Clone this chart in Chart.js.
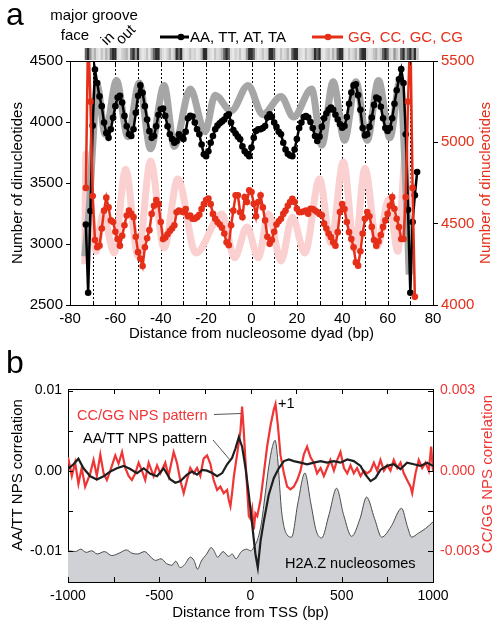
<!DOCTYPE html>
<html>
<head>
<meta charset="utf-8">
<title>Dinucleotide periodicity and NPS correlation</title>
<script src="https://cdn.jsdelivr.net/npm/chart.js@4.4.1/dist/chart.umd.min.js"></script>
<style>
  html, body { margin: 0; padding: 0; background: #fff; }
  #page { position: relative; width: 504px; height: 636px; overflow: hidden; }
  #page canvas { position: absolute; left: 0; }
  #chart-a { top: 0; }
  #chart-b { top: 345px; }
</style>
</head>
<body>
<div id="page">
  <canvas id="chart-a" width="504" height="345"></canvas>
  <canvas id="chart-b" width="504" height="291"></canvas>
</div>
<script>
// ---------- panel a: dinucleotide counts around the dyad (one value per bp) ----------
const DYAD_START = -73;

const AT_COUNTS = [
  3160, 2600, 3270, 3970, 4430, 4320, 4210, 4130, 3995, 3910,
  3870, 3940, 4035, 4130, 4200, 4215, 4160, 4050, 3965, 3900,
  3885, 3940, 4075, 4215, 4300, 4240, 4130, 4020, 3925, 3870,
  3885, 3965, 4060, 4105, 4110, 4050, 3965, 3900, 3860, 3830,
  3845, 3900, 3880, 3860, 3920, 4030, 4050, 4045, 3995, 3940,
  3900, 3816, 3735, 3720, 3760, 3830, 3885, 3940, 3970, 3990,
  4005, 4020, 4050, 4063, 3995, 3935, 3905, 3880, 3858, 3800,
  3760, 3740, 3720, 3790, 3870, 3926, 3940, 3940, 3950, 3967,
  4036, 4063, 4040, 3995, 3960, 3920, 3899, 3830, 3775, 3740,
  3725, 3720, 3775, 3860, 3950, 3995, 4040, 4049, 4036, 4000,
  3950, 3885, 3844, 3880, 3960, 4030, 4070, 4100, 4118, 4100,
  4060, 4020, 3981, 3953, 3967, 4040, 4150, 4241, 4300, 4310,
  4220, 4100, 3950, 3890, 3900, 3960, 4036, 4140, 4200, 4190,
  4125, 4030, 3950, 3926, 3950, 4030, 4150, 4260, 4351, 4433,
  4320, 3900, 3280, 2600, 3180, 3400, 3590
];

const GC_COUNTS = [
  4720, 5700, 5250, 4670, 4400, 4355, 4365, 4470, 4580, 4660,
  4600, 4520, 4510, 4450, 4405, 4365, 4425, 4490, 4550, 4580,
  4560, 4540, 4420, 4325, 4285, 4240, 4355, 4410, 4460, 4560,
  4610, 4645, 4620, 4510, 4405, 4415, 4435, 4455, 4470, 4490,
  4570, 4580, 4575, 4570, 4590, 4545, 4550, 4530, 4530, 4540,
  4555, 4590, 4620, 4645, 4655, 4620, 4560, 4530, 4510, 4495,
  4475, 4440, 4386, 4368, 4490, 4580, 4674, 4674, 4570, 4540,
  4663, 4633, 4705, 4694, 4622, 4545, 4633, 4674, 4600, 4520,
  4420, 4376, 4400, 4450, 4495, 4515, 4530, 4560, 4580, 4610,
  4633, 4653, 4633, 4592, 4571, 4571, 4575, 4580, 4561, 4591,
  4590, 4581, 4571, 4560, 4551, 4500, 4470, 4440, 4417, 4386,
  4365, 4448, 4571, 4620, 4590, 4510, 4448, 4406, 4355, 4262,
  4242, 4330, 4440, 4530, 4571, 4545, 4480, 4400, 4365, 4390,
  4430, 4480, 4520, 4560, 4610, 4663, 4591, 4530, 4479, 4406,
  4406, 4663, 5250, 5700, 4720, 4050
];

// smooth model curves (peaks and troughs)
const AT_MODEL_BP  = [-73.5, -71.5, -70, -68, -64.5, -59.5, -54.5, -49.5, -44.5, -38.5, -34, -27, -20.5, -16, -9, -1.5, 5, 13, 18.5, 26.5, 31, 36, 41, 46, 51, 56, 61, 65.5, 67.5, 69.5];
const AT_MODEL_VAL = [2900, 3300, 3800, 4300, 3900, 4340, 3880, 4320, 3780, 4300, 3800, 4270, 3920, 4220, 4090, 4300, 4060, 4210, 4040, 4270, 3810, 4330, 3850, 4330, 3850, 4340, 3870, 4340, 3700, 2750];

const GC_MODEL_BP  = [-73.5, -73, -70.5, -68.5, -65.5, -60.5, -55.5, -50, -44.5, -38.5, -32.5, -24.5, -13, -7.5, -2, 3, 7.5, 13, 18, 23.5, 30, 35, 40.5, 45.5, 50, 55.5, 60.5, 64.5, 68, 69.5];
const GC_MODEL_VAL = [4250, 4930, 4550, 4330, 4560, 4320, 4835, 4300, 4885, 4350, 4775, 4320, 4560, 4290, 4480, 4290, 4560, 4270, 4540, 4320, 4775, 4380, 4880, 4340, 4840, 4360, 4650, 4330, 4940, 4250];

const DOTTED_BP = [-70, -60, -50, -40, -30, -20, -10, 0, 10, 20, 30, 40, 50, 60, 70];

// major-groove face strip, darkness 0..9 per bp from -73 to 73
const GROOVE_SHADE = [
  8, 9, 7, 4, 6, 3, 2, 5, 3, 6,
  4, 8, 9, 9, 3, 2, 4, 5, 6, 3,
  8, 9, 7, 9, 4, 2, 3, 5, 2, 6,
  8, 9, 9, 5, 3, 2, 4, 6, 3, 5,
  9, 8, 9, 4, 2, 3, 5, 3, 4, 2,
  3, 6, 9, 9, 4, 3, 2, 5, 3, 4,
  6, 8, 9, 8, 3, 2, 4, 3, 5, 2,
  3, 7, 9, 9, 8, 4, 2, 3, 5, 3,
  4, 9, 9, 8, 3, 2, 5, 3, 4, 6,
  3, 8, 9, 9, 4, 3, 2, 5, 3, 4,
  6, 9, 8, 9, 3, 2, 4, 5, 3, 6,
  4, 8, 9, 9, 3, 2, 5, 3, 4, 6,
  3, 8, 9, 9, 4, 2, 3, 5, 6, 3,
  5, 8, 9, 8, 4, 3, 7, 5, 3, 8,
  9, 6, 8, 9, 7, 9, 5
];
const SHADE_GRAY = [252, 242, 232, 222, 210, 196, 178, 150, 100, 45];

// ---------- panel b: NPS correlation around the TSS ----------
const AT_NPS_BP = [
  -1000, -970, -943, -915, -878, -842, -805, -768, -732, -695,
  -659, -622, -585, -549, -512, -476, -439, -412, -384, -348,
  -320, -293, -265, -238, -210, -183, -155, -128, -101, -82,
  -64, -46, -27, -9, 9, 27, 40, 55, 73, 100,
  128, 155, 183, 210, 237, 274, 310, 347, 384, 420,
  457, 493, 530, 566, 603, 630, 658, 685, 712, 749,
  785, 822, 858, 895, 931, 968, 1000
];
const AT_NPS_VAL = [
  0.0002, 0.0008, 0.0015, 0.0003, -0.0007, -0.0011, -0.0007, -0.0001, 0.0003, 0.0006,
  0.0002, -0.0003, 0.0003, -0.0004, -0.0007, 0.0003, -0.0011, -0.0015, -0.0013, -0.0005,
  -0.0001, -0.0005, 0.0001, 0.0000, -0.0003, -0.0007, -0.0003, 0.0008, 0.0016, 0.0028,
  0.0042, 0.0030, 0.0003, -0.0030, -0.0067, -0.0104, -0.0121, -0.0088, -0.0063, -0.0030,
  -0.0009, 0.0003, 0.0012, 0.0014, 0.0012, 0.0010, 0.0008, 0.0010, 0.0012, 0.0010,
  0.0012, 0.0010, 0.0014, 0.0012, 0.0006, -0.0005, -0.0013, -0.0009, 0.0001, 0.0006,
  0.0008, 0.0002, 0.0010, 0.0008, 0.0006, 0.0010, 0.0006
];

const GC_NPS_BP = [
  -1000, -979, -961, -943, -925, -906, -878, -860, -842, -823,
  -805, -787, -768, -741, -723, -704, -686, -668, -650, -631,
  -613, -595, -577, -558, -531, -512, -494, -467, -449, -421,
  -403, -385, -366, -348, -330, -311, -293, -275, -257, -238,
  -220, -202, -183, -165, -147, -128, -119, -110, -101, -91,
  -73, -55, -46, -37, -27, -18, -9, 0, 9, 18,
  27, 37, 55, 73, 91, 110, 128, 137, 150, 164,
  183, 201, 219, 237, 256, 274, 292, 310, 329, 347,
  365, 384, 402, 420, 438, 457, 475, 493, 512, 530,
  548, 566, 584, 603, 621, 639, 658, 676, 694, 712,
  731, 749, 767, 785, 804, 822, 840, 858, 877, 886,
  904, 922, 941, 959, 977, 990, 1000
];
const GC_NPS_VAL = [
  0.0005, -0.0002, 0.0003, -0.0005, 0.0001, -0.0006, -0.0001, 0.0004, -0.0002, 0.0006,
  -0.0001, -0.00035, 0.0000, 0.00057, 0.00026, 0.0007, 0.0001, -0.0002, -0.00035, -0.0001,
  0.0003, 0.0000, -0.00035, 0.0003, -0.0002, 0.0002, -0.0001, 0.0003, -0.0002, 0.0007,
  0.0003, -0.00035, -0.00084, -0.00035, 0.0001, -0.0001, 0.0001, -0.0002, 0.00045, 0.00057,
  0.00026, -0.00035, -0.00072, -0.0006, -0.00084, -0.00072, -0.0011, -0.00133, -0.00084, -0.0002,
  0.00063, 0.0015, 0.0024, 0.0015, 0.0003, -0.0007, -0.0017, -0.0018, -0.00145, -0.0022,
  -0.0016, -0.0017, -0.0011, -0.0001, 0.0009, 0.0017, 0.0023, 0.0025, 0.0017, 0.0006,
  -0.0001, -0.0006, -0.0007, -0.0006, -0.00035, 0.0000, 0.0006, 0.0009, 0.0005, 0.0003,
  -0.0001, 0.0001, -0.0002, 0.0001, 0.0004, 0.0000, 0.0004, 0.0007, 0.0001, -0.0001,
  0.0002, -0.0001, 0.0001, -0.0002, 0.0000, -0.0001, 0.0000, 0.0003, 0.0000, 0.0004,
  0.0000, 0.0002, 0.0000, 0.0004, 0.0001, 0.0003, -0.0001, -0.00035, -0.0006, -0.00084,
  -0.0001, 0.0004, 0.0001, 0.0003, 0.0000, 0.0009, 0.0000
];

// H2A.Z occupancy profile, drawn in left-axis units
const H2AZ_BP = [
  -1000, -960, -930, -900, -870, -840, -800, -760, -720, -680,
  -650, -620, -580, -550, -520, -490, -460, -430, -410, -385,
  -360, -330, -310, -290, -270, -240, -215, -200, -180, -150,
  -120, -100, -80, -50, -20, 0, 20, 40, 60, 80,
  100, 120, 135, 150, 170, 200, 225, 260, 298, 330,
  360, 390, 430, 472, 510, 554, 600, 636, 680, 719,
  770, 828, 860, 883, 920, 960, 1000
];
const H2AZ_VAL = [
  -0.0100, -0.0101, -0.0098, -0.0102, -0.0100, -0.0104, -0.0101, -0.0106, -0.0103, -0.0099,
  -0.0103, -0.0104, -0.0101, -0.0107, -0.0112, -0.0110, -0.0116, -0.0118, -0.0113, -0.0121,
  -0.0117, -0.0108, -0.0112, -0.0123, -0.0113, -0.0104, -0.0096, -0.0100, -0.0108, -0.0101,
  -0.0107, -0.0104, -0.0110, -0.0101, -0.0098, -0.0100, -0.0095, -0.0085, -0.0065, -0.0030,
  0.0005, 0.0030, 0.0038, 0.0012, -0.0050, -0.0080, -0.0083, -0.0040, -0.0003, -0.0040,
  -0.0075, -0.0084, -0.0055, -0.0022, -0.0055, -0.0082, -0.0060, -0.0033, -0.0060, -0.0083,
  -0.0070, -0.0047, -0.0070, -0.0083, -0.0078, -0.0072, -0.0064
];

const FONT = '"Liberation Sans", Arial, Helvetica, sans-serif';
const RED = '#e52f19';
const RED_B = '#ee3636';

Chart.defaults.font.family = FONT;
Chart.defaults.color = '#000';

const pairs = (xs, ys) => xs.map((x, i) => ({ x: x, y: ys[i] }));
const seq = (start, vals) => vals.map((v, i) => ({ x: start + i, y: v }));

function line(ctx, x1, y1, x2, y2) {
  ctx.beginPath();
  ctx.moveTo(x1, y1);
  ctx.lineTo(x2, y2);
  ctx.stroke();
}

function vText(ctx, text, x, y, color) {
  ctx.save();
  ctx.translate(x, y);
  ctx.rotate(-Math.PI / 2);
  ctx.fillStyle = color;
  ctx.textAlign = 'center';
  ctx.textBaseline = 'middle';
  ctx.fillText(text, 0, 0);
  ctx.restore();
}

// dotted helix lines, groove strip, frame, labels for panel a
const decorA = {
  id: 'decorA',
  beforeDatasetsDraw(chart) {
    const { ctx, chartArea: area, scales } = chart;
    ctx.save();
    ctx.strokeStyle = '#000';
    ctx.lineWidth = 1;
    ctx.setLineDash([2, 2]);
    DOTTED_BP.forEach(v => {
      const px = Math.round(scales.x.getPixelForValue(v)) + 0.5;
      line(ctx, px, area.top, px, area.bottom);
    });
    ctx.restore();
  },
  afterDraw(chart) {
    const { ctx, chartArea: area, scales } = chart;
    const x = scales.x;
    ctx.save();

    // groove face strip
    const w = x.getPixelForValue(1) - x.getPixelForValue(0);
    GROOVE_SHADE.forEach((d, i) => {
      const g = SHADE_GRAY[d];
      ctx.fillStyle = 'rgb(' + g + ',' + g + ',' + g + ')';
      ctx.fillRect(x.getPixelForValue(DYAD_START + i) - w / 2, area.top - 13, w + 0.5, 12);
    });

    // top frame + inward ticks
    ctx.strokeStyle = '#000';
    ctx.lineWidth = 1;
    line(ctx, area.left, area.top + 0.5, area.right, area.top + 0.5);
    for (let v = -80; v <= 80; v += 10) {
      const px = Math.round(x.getPixelForValue(v)) + 0.5;
      line(ctx, px, area.bottom, px, area.bottom - 4);
      line(ctx, px, area.top, px, area.top + 4);
    }

    // axis titles
    ctx.font = '15px ' + FONT;
    vText(ctx, 'Number of dinucleotides', 18, 183, '#000');
    vText(ctx, 'Number of dinucleotides', 486, 183, RED);

    // panel letter
    ctx.fillStyle = '#000';
    ctx.textBaseline = 'alphabetic';
    ctx.textAlign = 'left';
    ctx.font = '32px ' + FONT;
    ctx.fillText('a', 6, 25);

    // groove labels
    ctx.font = '15px ' + FONT;
    ctx.textAlign = 'center';
    ctx.fillText('major groove', 94, 20);
    ctx.fillText('face', 75, 40);
    ctx.textBaseline = 'middle';
    [['in', 108, 39], ['out', 126, 35]].forEach(([t, tx, ty]) => {
      ctx.save();
      ctx.translate(tx, ty);
      ctx.rotate(-Math.PI / 4);
      ctx.fillText(t, 0, 0);
      ctx.restore();
    });

    // legend
    ctx.lineWidth = 3;
    ctx.strokeStyle = '#000';
    line(ctx, 160, 37, 189, 37);
    ctx.beginPath(); ctx.arc(181, 37, 3.3, 0, Math.PI * 2); ctx.fillStyle = '#000'; ctx.fill();
    ctx.strokeStyle = RED;
    line(ctx, 312, 37, 343, 37);
    ctx.beginPath(); ctx.arc(328, 37, 3.3, 0, Math.PI * 2); ctx.fillStyle = RED; ctx.fill();
    ctx.textAlign = 'left';
    ctx.textBaseline = 'alphabetic';
    ctx.fillStyle = '#000';
    ctx.fillText('AA, TT, AT, TA', 190, 42);
    ctx.fillStyle = RED;
    ctx.fillText('GG, CC, GC, CG', 348, 42);
    ctx.restore();
  }
};

new Chart(document.getElementById('chart-a'), {
  type: 'line',
  data: {
    datasets: [
      {
        label: 'GG, CC, GC, CG', data: seq(DYAD_START, GC_COUNTS), yAxisID: 'yR',
        borderColor: RED, backgroundColor: RED, borderWidth: 2.5,
        pointRadius: 3.3, pointBorderWidth: 0, pointBackgroundColor: RED,
        clip: { top: 0, left: 8, right: 8, bottom: 8 }, order: 0
      },
      {
        label: 'AA, TT, AT, TA', data: seq(DYAD_START, AT_COUNTS), yAxisID: 'y',
        borderColor: '#000', backgroundColor: '#000', borderWidth: 2.5,
        pointRadius: 3.3, pointBorderWidth: 0, pointBackgroundColor: '#000', order: 1
      },
      {
        label: 'AA/TT model', data: pairs(AT_MODEL_BP, AT_MODEL_VAL), yAxisID: 'y',
        borderColor: '#a6a6a6', borderWidth: 7, pointRadius: 0,
        cubicInterpolationMode: 'monotone', order: 2
      },
      {
        label: 'GC model', data: pairs(GC_MODEL_BP, GC_MODEL_VAL), yAxisID: 'yR',
        borderColor: '#fad0d0', borderWidth: 7, pointRadius: 0,
        cubicInterpolationMode: 'monotone', order: 3
      }
    ]
  },
  options: {
    responsive: false,
    animation: false,
    devicePixelRatio: 1,
    events: [],
    layout: { padding: { top: 61, left: 0, right: 0, bottom: 0 } },
    plugins: { legend: { display: false }, tooltip: { enabled: false } },
    scales: {
      x: {
        type: 'linear', position: 'bottom', min: -80, max: 80,
        afterFit: s => { s.height = 40; },
        grid: { display: false, drawTicks: false },
        border: { display: true, color: '#000', width: 1 },
        ticks: {
          stepSize: 10, autoSkip: false, maxRotation: 0, padding: 5,
          font: { size: 15 }, color: '#000',
          callback: v => (v % 20 === 0 ? String(v) : '')
        },
        title: {
          display: true, text: 'Distance from nucleosome dyad (bp)',
          font: { size: 15 }, color: '#000', padding: { top: 0, bottom: 2 }
        }
      },
      y: {
        type: 'linear', position: 'left', min: 2500, max: 4500,
        afterFit: s => { s.width = 70; },
        grid: { display: true, drawOnChartArea: false, drawTicks: true, tickLength: 4, color: '#000' },
        border: { display: true, color: '#000', width: 1 },
        ticks: { stepSize: 500, padding: 3, font: { size: 15 }, color: '#000', callback: v => String(v) }
      },
      yR: {
        type: 'linear', position: 'right', min: 4000, max: 5500,
        afterFit: s => { s.width = 71; },
        grid: { display: true, drawOnChartArea: false, drawTicks: true, tickLength: 5, color: '#000' },
        border: { display: true, color: '#000', width: 1 },
        ticks: { stepSize: 500, padding: 3, font: { size: 15 }, color: RED, callback: v => String(v) }
      }
    }
  },
  plugins: [decorA]
});

// frame, inward ticks, notes for panel b
const decorB = {
  id: 'decorB',
  afterDraw(chart) {
    const { ctx, chartArea: area, scales } = chart;
    ctx.save();
    ctx.strokeStyle = '#000';
    ctx.lineWidth = 1;
    line(ctx, area.left, area.top + 0.5, area.right, area.top + 0.5);
    [-0.01, -0.005, 0, 0.005, 0.01].forEach(v => {
      const py = Math.round(scales.y.getPixelForValue(v)) + 0.5;
      line(ctx, area.left, py, area.left + 5, py);
    });
    [-0.003, -0.0015, 0, 0.0015, 0.003].forEach(v => {
      const py = Math.round(scales.yR.getPixelForValue(v)) + 0.5;
      line(ctx, area.right, py, area.right - 5, py);
    });
    [-1000, -750, -500, -250, 0, 250, 500, 750, 1000].forEach(v => {
      const px = Math.round(scales.x.getPixelForValue(v)) + 0.5;
      line(ctx, px, area.bottom, px, area.bottom - 5);
      line(ctx, px, area.top, px, area.top + 5);
    });

    ctx.font = '15px ' + FONT;
    vText(ctx, 'AA/TT NPS correlation', 18, 130, '#000');
    vText(ctx, 'CC/GG NPS correlation', 488, 129, RED_B);

    ctx.fillStyle = '#000';
    ctx.textAlign = 'left';
    ctx.textBaseline = 'alphabetic';
    ctx.font = '32px ' + FONT;
    ctx.fillText('b', 6, 28);

    // callouts
    ctx.strokeStyle = '#555';
    ctx.lineWidth = 1;
    line(ctx, 214, 69.5, 241, 68.5);
    line(ctx, 213, 95, 230, 115);
    ctx.font = '14.5px ' + FONT;
    ctx.fillStyle = RED_B;
    ctx.fillText('CC/GG NPS pattern', 77, 75);
    ctx.fillStyle = '#000';
    ctx.fillText('AA/TT NPS pattern', 83, 98);
    ctx.fillText('+1', 278, 63);
    ctx.fillText('H2A.Z nucleosomes', 285, 223);
    ctx.restore();
  }
};

new Chart(document.getElementById('chart-b'), {
  type: 'line',
  data: {
    datasets: [
      {
        label: 'AA/TT NPS pattern', data: pairs(AT_NPS_BP, AT_NPS_VAL), yAxisID: 'y',
        borderColor: '#1e1e1e', borderWidth: 2.2, pointRadius: 0, order: 0
      },
      {
        label: 'CC/GG NPS pattern', data: pairs(GC_NPS_BP, GC_NPS_VAL), yAxisID: 'yR',
        borderColor: RED_B, borderWidth: 2.2, pointRadius: 0, order: 1
      },
      {
        label: 'H2A.Z nucleosomes', data: pairs(H2AZ_BP, H2AZ_VAL), yAxisID: 'y',
        borderColor: '#4a4a4a', borderWidth: 1, backgroundColor: '#cfd1d4',
        fill: 'start', pointRadius: 0, cubicInterpolationMode: 'monotone', order: 2
      }
    ]
  },
  options: {
    responsive: false,
    animation: false,
    devicePixelRatio: 1,
    events: [],
    layout: { padding: { top: 44, left: 0, right: 0, bottom: 0 } },
    plugins: { legend: { display: false }, tooltip: { enabled: false } },
    scales: {
      x: {
        type: 'linear', position: 'bottom', min: -1000, max: 1000,
        afterFit: s => { s.height = 54; },
        grid: { display: false, drawTicks: false },
        border: { display: true, color: '#000', width: 1 },
        ticks: { stepSize: 500, autoSkip: false, maxRotation: 0, padding: 6, font: { size: 14 }, color: '#000', callback: v => String(v) },
        title: {
          display: true, text: 'Distance from TSS (bp)',
          font: { size: 15 }, color: '#000', padding: { top: 0, bottom: 14 }
        }
      },
      y: {
        type: 'linear', position: 'left', min: -0.0139, max: 0.0102,
        afterFit: s => { s.width = 68; },
        afterBuildTicks: s => { s.ticks = [{ value: -0.01 }, { value: 0 }, { value: 0.01 }]; },
        grid: { display: false, drawTicks: false },
        border: { display: true, color: '#000', width: 1 },
        ticks: { padding: 6, font: { size: 14 }, color: '#000', callback: v => v.toFixed(2) }
      },
      yR: {
        type: 'linear', position: 'right', min: -0.00417, max: 0.00306,
        afterFit: s => { s.width = 71; },
        afterBuildTicks: s => { s.ticks = [{ value: -0.003 }, { value: 0 }, { value: 0.003 }]; },
        grid: { display: false, drawTicks: false },
        border: { display: true, color: '#000', width: 1 },
        ticks: { padding: 7, font: { size: 14 }, color: RED_B, callback: v => v.toFixed(3) }
      }
    }
  },
  plugins: [decorB]
});
</script>
</body>
</html>
